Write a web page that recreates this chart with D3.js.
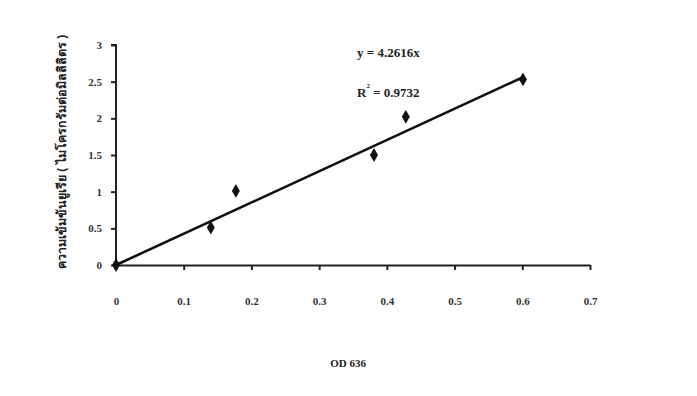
<!DOCTYPE html>
<meta charset="utf-8">
<style>
  html, body { margin: 0; padding: 0; background: #fff; overflow: hidden; }
  text { font-family: "Liberation Serif", "Noto Sans", serif; fill: #222; }
  .axis path, .axis line { stroke: #222; stroke-width: 2px; fill: none; }
  .axis text { font-size: 11px; font-weight: bold; fill: #333; }
  .fit { stroke: #111; stroke-width: 2.6px; fill: none; }
</style>
<body>
<svg width="697" height="396"></svg>
<script src="https://d3js.org/d3.v7.min.js"></script>
<script>
  // data
  var od = [0, 0.14, 0.177, 0.381, 0.428, 0.601];
  var conc = [0, 0.51, 1.01, 1.5, 2.02, 2.53];
  var slope = 4.2616;
  var xTicks = [0, 0.1, 0.2, 0.3, 0.4, 0.5, 0.6, 0.7];
  var yTicks = [0, 0.5, 1, 1.5, 2, 2.5, 3];

  var svg = d3.select("svg");

  var x = d3.scaleLinear().domain([0, 0.7]).range([116, 590]);
  var y = d3.scaleLinear().domain([0, 3]).range([265, 45]);

  svg.append("g")
    .attr("class", "axis")
    .attr("transform", "translate(0," + y(0) + ")")
    .call(d3.axisBottom(x).tickValues(xTicks).tickSize(5).tickSizeOuter(0)
      .tickFormat(function(d) { return d; }))
    .call(function(g) { g.selectAll("text").attr("y", 40).attr("dy", "0"); });

  svg.append("g")
    .attr("class", "axis")
    .attr("transform", "translate(" + x(0) + ",0)")
    .call(d3.axisLeft(y).tickValues(yTicks).tickSize(5).tickSizeOuter(0)
      .tickFormat(function(d) { return d; }))
    .call(function(g) { g.selectAll("text").attr("x", -14); })
    .call(function(g) { g.select(".domain").attr("d", "M-5," + y(3) + "H0V" + y(0)); });

  // trend line y = 4.2616x
  svg.append("line")
    .attr("class", "fit")
    .attr("x1", x(0)).attr("y1", y(0))
    .attr("x2", x(0.6)).attr("y2", y(0.6 * slope));

  var pts = od.map(function(d, i) { return [d, conc[i]]; });
  svg.append("g").selectAll("path")
    .data(pts)
    .enter().append("path")
      .attr("transform", function(d) { return "translate(" + x(d[0]) + "," + y(d[1]) + ")"; })
      .attr("d", d3.symbol(d3.symbolDiamond, 55))
      .attr("fill", "#111");

  svg.append("text")
    .attr("x", 357).attr("y", 57)
    .style("font-size", "13px")
    .style("font-weight", "bold")
    .text("y = 4.2616x");

  var r = svg.append("text")
    .attr("x", 357).attr("y", 97)
    .style("font-size", "13px")
    .style("font-weight", "bold");
  r.append("tspan").text("R");
  r.append("tspan").attr("dy", -9).style("font-size", "7px").text("2");
  r.append("tspan").attr("dy", 9).text(" = 0.9732");

  svg.append("text")
    .attr("x", 348).attr("y", 367)
    .attr("text-anchor", "middle")
    .style("font-size", "11px")
    .style("font-weight", "bold")
    .text("OD 636");

  svg.append("text")
    .attr("transform", "translate(66,152) rotate(-90)")
    .attr("text-anchor", "middle")
    .style("font-family", "'Noto Sans', sans-serif")
    .style("font-size", "12.5px")
    .style("font-weight", "bold")
    .text("ความเข้มข้นยูเรีย ( ไมโครกรัมต่อมิลลิลิตร )");
</script>
</body>
</html>
